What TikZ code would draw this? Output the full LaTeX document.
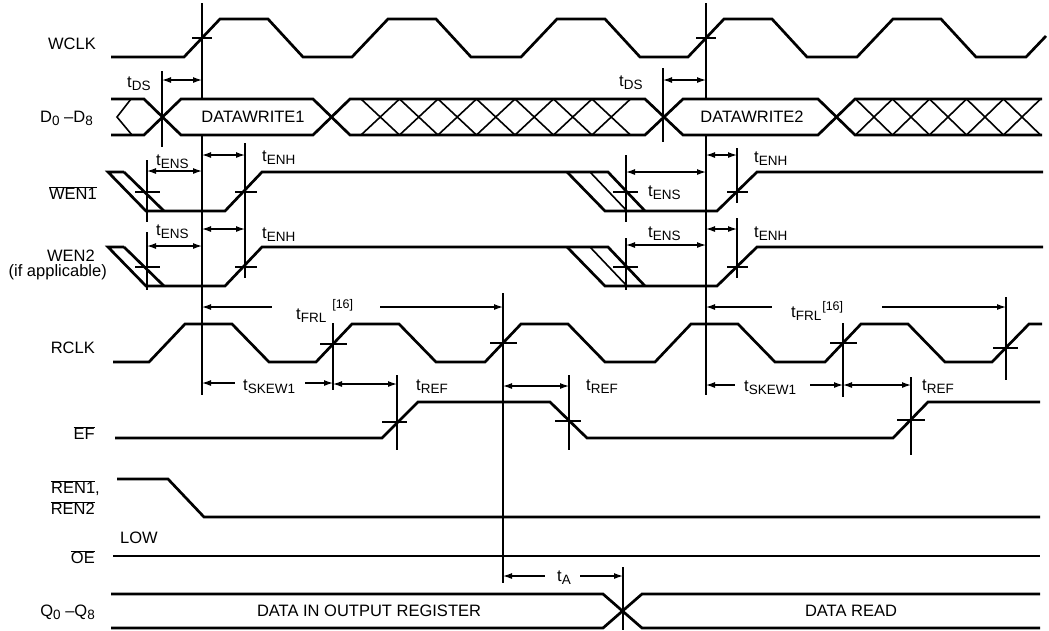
\documentclass[tikz,border=0pt]{standalone}
\usepackage{fontspec}
\setmainfont{Liberation Sans}
\usetikzlibrary{arrows.meta}
\newcommand\sbt[1]{\raisebox{-3pt}{\fontsize{13.5}{13.5}\selectfont #1}}
\newcommand\tm[1]{t\sbt{#1}}
\newcommand\ovl[1]{\ensuremath{\overline{\mbox{#1}}}}
\newcommand\supref[1]{\raisebox{11pt}{\fontsize{12.5}{12.5}\selectfont #1}}
\begin{document}
\begin{tikzpicture}[x=1pt,y=-1pt,
  sig/.style={line width=2.7pt},
  thinln/.style={line width=1.3pt},
  hatch/.style={line width=1.6pt},
  dim/.style={line width=1.2pt,{Latex[length=9pt,width=6pt]}-{Latex[length=9pt,width=6pt]}},
  dimL/.style={line width=1.2pt,{Latex[length=9pt,width=6pt]}-},
  dimR/.style={line width=1.2pt,-{Latex[length=9pt,width=6pt]}},
  lbl/.style={font=\fontsize{16.5}{18}\selectfont, inner sep=0pt, anchor=east},
  tl/.style={font=\fontsize{16.5}{18}\selectfont, inner sep=0pt, anchor=west},
  txt/.style={font=\fontsize{16.5}{18}\selectfont, inner sep=0pt},
]
\useasboundingbox (0,0) rectangle (1049,630);

% ---------------- signal names ----------------
\node[lbl] (nWCLK) at (96,44) {WCLK};
\node[lbl] (nD) at (93,118) {D\sbt{0} –D\sbt{8}};
\node[lbl] (nWEN1) at (97,193) {\ovl{WEN1}};
\node[lbl] (nWEN2) at (95,256) {WEN2};
\node[lbl] (nWEN2b) at (107,272) {(if applicable)};
\node[lbl] (nRCLK) at (95,348) {RCLK};
\node[lbl] (nEF) at (95,433) {\ovl{EF}};
\node[lbl] (nREN1) at (100,488) {\ovl{REN1},};
\node[lbl] (nREN2) at (95,508) {\ovl{REN2}};
\node[tl] (nLOW) at (120,538) {LOW};
\node[lbl] (nOE) at (95,557) {\ovl{OE}};
\node[lbl] (nQ) at (95,612) {Q\sbt{0} –Q\sbt{8}};

% ---------------- WCLK ----------------
\draw[sig] (111,57) foreach \r in {184,352,521,688,857} { -- (\r,57) -- (\r+36,19) -- (\r+84,19) -- (\r+119,57) } -- (1026,57) -- (1046,36);
\draw[thinln] (192,38) -- (212,38);
\draw[thinln] (696,38) -- (716,38);

% ---------------- D bus ----------------
\draw[sig] (111,99) -- (144,99) -- (181,135) -- (313,135) -- (350,99) -- (645,99) -- (683,135) -- (818,135) -- (855,99) -- (1042,99);
\draw[sig] (111,135) -- (144,135) -- (181,99) -- (313,99) -- (350,135) -- (645,135) -- (683,99) -- (818,99) -- (855,135) -- (1042,135);
\draw[hatch] (131,99) -- (117,117) -- (132,135);
\foreach \k in {0,...,6} {
  \draw[hatch] (361+38.5*\k,99) -- (399.5+38.5*\k,135);
  \draw[hatch] (399.5+38.5*\k,99) -- (361+38.5*\k,135);
}
\foreach \k in {0,...,4} {
  \draw[hatch] (855.5+37*\k,99) -- (892.5+37*\k,135);
  \draw[hatch] (892.5+37*\k,99) -- (855.5+37*\k,135);
}
\node[txt] (dw1) at (253,117) {DATAWRITE1};
\node[txt] (dw2) at (752,117) {DATAWRITE2};

% main vertical references
\draw[thinln] (202,3) -- (202,99);
\draw[thinln] (202,135) -- (202,395);
\draw[thinln] (706,3) -- (706,99);
\draw[thinln] (706,135) -- (706,395);

% tDS
\draw[thinln] (162,71) -- (162,147);
\draw[dim] (162,80) -- (202,80);
\node[tl] (tds1) at (127,84) {\tm{DS}};
\draw[thinln] (663,68) -- (663,142);
\draw[dim] (663,80) -- (706,80);
\node[tl] (tds2) at (619,83) {\tm{DS}};

% ---------------- WEN1 / WEN2 ----------------
\foreach \dy in {0,75} {
  \draw[sig] (124,172+\dy) -- (108,172+\dy) -- (146,211+\dy) -- (225,211+\dy) -- (262,172+\dy) -- (608,172+\dy) -- (645,211+\dy);
  \draw[sig] (124,172+\dy) -- (164,211+\dy);
  \draw[sig] (567,172+\dy) -- (605,211+\dy) -- (717,211+\dy) -- (757,172+\dy) -- (1043,172+\dy);
  \draw[hatch] (590,172+\dy) -- (627,211+\dy);
  \draw[thinln] (135,192+\dy) -- (160,192+\dy);
  \draw[thinln] (235,192+\dy) -- (257,192+\dy);
  \draw[thinln] (613,192+\dy) -- (638,192+\dy);
  \draw[thinln] (727,192+\dy) -- (748,192+\dy);
}
% verticals
\draw[thinln] (147,160) -- (147,222);
\draw[thinln] (245,143) -- (245,222);
\draw[thinln] (626,155) -- (626,222);
\draw[thinln] (737,148) -- (737,203);
\draw[thinln] (147,232) -- (147,290);
\draw[thinln] (245,218) -- (245,278);
\draw[thinln] (626,238) -- (626,290);
\draw[thinln] (737,218) -- (737,278);
% arrows
\draw[dim] (147,171) -- (202,171);
\node[tl] (tens1) at (156,162) {\tm{ENS}};
\draw[dim] (202,155) -- (245,155);
\node[tl] (tenh1) at (262,158) {\tm{ENH}};
\draw[dim] (147,246) -- (202,246);
\node[tl] (tens2) at (156,232) {\tm{ENS}};
\draw[dim] (202,229) -- (245,229);
\node[tl] (tenh2) at (262,235) {\tm{ENH}};
\draw[dim] (626,172) -- (706,172);
\node[tl] (tens3) at (648,193) {\tm{ENS}};
\draw[dim] (706,155) -- (737,155);
\node[tl] (tenh3) at (754,159) {\tm{ENH}};
\draw[dim] (626,245) -- (706,245);
\node[tl] (tens4) at (648,234) {\tm{ENS}};
\draw[dim] (706,229) -- (737,229);
\node[tl] (tenh4) at (754,234) {\tm{ENH}};

% ---------------- tFRL ----------------
\draw[thinln] (503,293) -- (503,583);
\draw[thinln] (1006,297) -- (1006,380);
\draw[dimL] (202,307) -- (272,307);
\draw[dimR] (380,307) -- (503,307);
\node[tl] (tfrl1) at (296,311) {\tm{FRL}\hspace{6pt}\supref{[16]}};
\draw[dimL] (706,307) -- (772,307);
\draw[dimR] (882,307) -- (1006,307);
\node[tl] (tfrl2) at (791,311) {\tm{FRL}\hspace{1pt}\raisebox{-4pt}{\supref{[16]}}};

% ---------------- RCLK ----------------
\draw[sig] (113,362) foreach \r in {149,316,485,655,825} { -- (\r,362) -- (\r+36,324) -- (\r+83,324) -- (\r+120,362) } -- (992,362) -- (1029,324) -- (1042,324);
\draw[thinln] (333,323) -- (333,390);
\draw[thinln] (843,323) -- (843,397);
\draw[thinln] (320,344) -- (347,344);
\draw[thinln] (490,343) -- (517,343);
\draw[thinln] (830,343) -- (857,343);
\draw[thinln] (993,348) -- (1018,348);

% tSKEW1 / tREF
\draw[dimL] (202,383) -- (235,383);
\draw[dimR] (305,383) -- (333,383);
\node[tl] (tsk1) at (243,387) {\tm{SKEW1}};
\draw[dim] (333,384) -- (397,384);
\node[tl] (tref1) at (416,387) {\tm{REF}};
\draw[dim] (503,386) -- (569,386);
\node[tl] (tref2) at (586,387) {\tm{REF}};
\draw[dimL] (706,385) -- (735,385);
\draw[dimR] (810,385) -- (843,385);
\node[tl] (tsk2) at (744,388) {\tm{SKEW1}};
\draw[dim] (843,385) -- (911,385);
\node[tl] (tref3) at (922,387) {\tm{REF}};

% ---------------- EF ----------------
\draw[sig] (115,438) -- (382,438) -- (418,402) -- (550,402) -- (587,438) -- (893,438) -- (928,402) -- (1040,402);
\draw[thinln] (397,375) -- (397,450);
\draw[thinln] (569,375) -- (569,450);
\draw[thinln] (911,377) -- (911,455);
\draw[thinln] (382,422) -- (407,422);
\draw[thinln] (555,421) -- (581,421);
\draw[thinln] (897,420) -- (925,420);

% ---------------- REN, OE ----------------
\draw[sig] (117,479) -- (168,479) -- (204,517) -- (1040,517);
\draw[sig] (113,556) -- (1040,556);

% ---------------- Q bus ----------------
\draw[sig] (111,594) -- (603,594) -- (642,628) -- (1040,628);
\draw[sig] (111,628) -- (603,628) -- (642,594) -- (1040,594);
\node[txt] (q1) at (369,611) {DATA IN OUTPUT REGISTER};
\node[txt] (q2) at (851,611) {DATA READ};
\draw[thinln] (623,567) -- (623,630);
\draw[dimL] (503,576) -- (545,576);
\draw[dimR] (580,576) -- (623,576);
\node[tl] (ta) at (557,578) {\tm{A}};
\end{tikzpicture}
\end{document}
